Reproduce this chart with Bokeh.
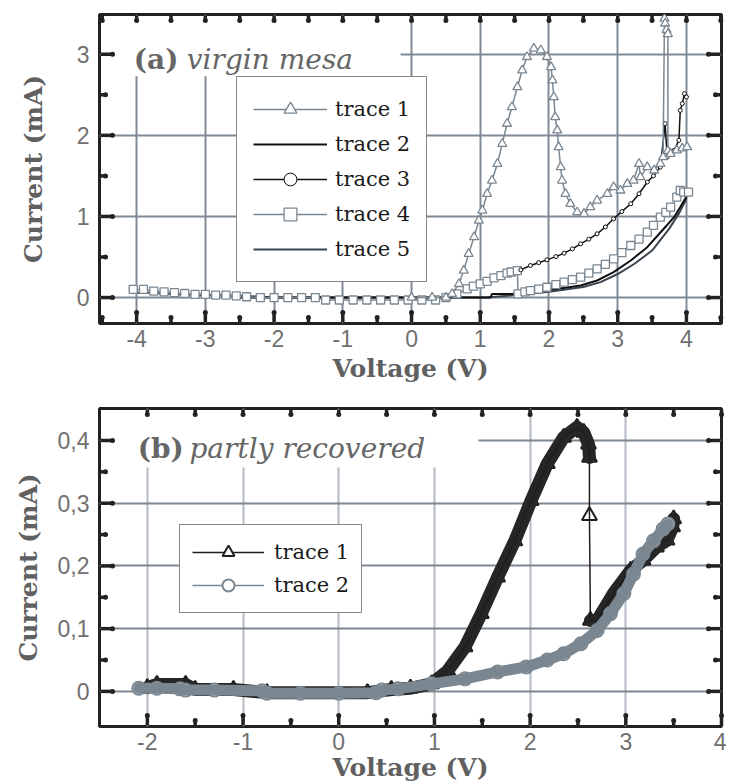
from bokeh.plotting import figure
from bokeh.models import (FixedTicker, Range1d, Legend, LegendItem,
                          Label, BoxAnnotation, CustomJSTickFormatter)
from bokeh.layouts import column
from bokeh.embed import file_html
from bokeh.resources import INLINE

# ---------------- panel (a): virgin mesa ----------------
a_xrange = (-4.54, 4.51)
a_yrange = (-0.32, 3.49)
a_xticks = [-4, -3, -2, -1, 0, 1, 2, 3, 4]
a_xminor = [-4.5, -3.5, -2.5, -1.5, -0.5, 0.5, 1.5, 2.5, 3.5, 4.5]
a_yticks = [0, 1, 2, 3]
a_yminor = [0.5, 1.5, 2.5]

a1_v = [0.0, 0.3, 0.5, 0.59, 0.69, 0.76, 0.83, 0.91, 0.98, 1.03, 1.10, 1.17, 1.25,
        1.32, 1.39, 1.46, 1.54, 1.61, 1.68, 1.78, 1.88, 1.97, 2.03,
        2.05, 2.07, 2.09, 2.12, 2.14, 2.17, 2.19, 2.24, 2.31, 2.41,
        2.51, 2.60, 2.70, 2.85, 2.94, 3.04, 3.14, 3.23, 3.31, 3.33,
        3.43, 3.53, 3.62, 3.66, 3.68, 3.69, 3.71, 3.73, 3.73, 3.77,
        3.86, 3.94, 4.01]
a1_i = [0.0, 0.0, 0.0, 0.045, 0.168, 0.333, 0.539, 0.745, 0.95, 1.074, 1.28, 1.444, 1.65,
        1.897, 2.144, 2.35, 2.596, 2.802, 2.967, 3.07, 3.05, 2.967, 2.843,
        2.679, 2.473, 2.226, 2.062, 1.856, 1.609, 1.444, 1.28, 1.156, 1.053,
        1.033, 1.115, 1.197, 1.28, 1.362, 1.321, 1.403, 1.444, 1.65, 1.485,
        1.609, 1.568, 1.65, 1.732, 3.44, 3.38, 3.3, 3.25, 1.81, 1.773,
        1.815, 1.84, 1.856]

a2_v = [-2.5, 0.0, 1.1, 1.15, 1.17, 1.49, 1.97, 2.46, 2.70, 2.94, 3.19, 3.43, 3.67, 3.82, 3.91, 4.01]
a2_i = [0.0, 0.0, 0.0, 0.0, 0.045, 0.045, 0.086, 0.148, 0.21, 0.313, 0.457, 0.621, 0.848, 0.991, 1.115, 1.259]

a3_v = [1.59, 1.73, 1.85, 1.97, 2.10, 2.22, 2.34, 2.46, 2.58, 2.70, 2.82, 2.94, 3.06, 3.19,
        3.31, 3.43, 3.52, 3.62, 3.69, 3.72, 3.82, 3.89, 3.91, 3.94, 3.97, 4.0]
a3_i = [0.341, 0.395, 0.43, 0.465, 0.505, 0.547, 0.60, 0.662, 0.72, 0.786, 0.87, 0.971, 1.06, 1.156,
        1.28, 1.424, 1.50, 1.609, 2.144, 1.732, 1.815, 1.938, 2.308, 2.391, 2.514, 2.473]

a4_v = [-4.05, -3.9, -3.75, -3.6, -3.45, -3.3, -3.15, -3.0, -2.85, -2.7, -2.55, -2.4,
        -2.2, -2.0, -1.8, -1.6, -1.4, -1.25, -1.05, -0.85, -0.65, -0.45, -0.25, -0.05,
        0.15, 0.35, 0.5, 0.66, 0.81, 0.9, 1.0, 1.1, 1.2, 1.3, 1.39, 1.45, 1.54,
        1.55, 1.65, 1.73, 1.85, 1.97, 2.1, 2.22, 2.34, 2.46, 2.58, 2.70, 2.82, 2.94,
        3.06, 3.19, 3.31, 3.43, 3.52, 3.62, 3.70, 3.77, 3.86, 3.91, 3.96, 4.03]
a4_i = [0.1, 0.1, 0.08, 0.07, 0.06, 0.05, 0.04, 0.04, 0.03, 0.03, 0.02, 0.01,
        0.0, 0.0, 0.0, 0.0, 0.0, -0.03, -0.03, -0.03, -0.03, -0.03, -0.03, -0.03,
        -0.03, -0.03, 0.0, 0.045, 0.107, 0.14, 0.168, 0.2, 0.243, 0.27, 0.3, 0.315, 0.333,
        0.045, 0.07, 0.086, 0.105, 0.127, 0.16, 0.189, 0.22, 0.251, 0.30, 0.354, 0.41, 0.477,
        0.555, 0.642, 0.72, 0.806, 0.89, 0.991, 1.05, 1.115, 1.238, 1.32, 1.3, 1.3]

a5_v = [-4.0, -3.8, -3.45, -2.4, -2.0, 1.1, 1.5, 2.0, 2.5, 2.75, 3.0, 3.25, 3.5, 3.75, 3.9, 4.0]
a5_i = [0.06, 0.06, 0.04, 0.02, 0.0, 0.0, 0.03, 0.07, 0.13, 0.19, 0.29, 0.42, 0.58, 0.85, 1.05, 1.22]

a_labels = ["trace 1", "trace 2", "trace 3", "trace 4", "trace 5"]

# ---------------- panel (b): partly recovered ----------------
b_xrange = (-2.5, 4.0)
b_yrange = (-0.056, 0.451)
b_xticks = [-2, -1, 0, 1, 2, 3, 4]
b_xminor = [-1.5, -0.5, 0.5, 1.5, 2.5, 3.5]
b_yticks = [0, 0.1, 0.2, 0.3, 0.4]
b_yminor = [0.05, 0.15, 0.25, 0.35]

b1_v = [-2.0, -1.9, -1.6, -1.5, -1.1, -0.75, 0.3, 0.55, 0.75, 0.97, 1.14, 1.32, 1.49, 1.66,
        1.84, 2.01, 2.18, 2.35, 2.49, 2.56, 2.61, 2.62, 2.62, 2.63, 2.70, 2.87, 3.05,
        3.18, 3.32, 3.43, 3.49, 3.50]
b1_i = [0.006, 0.011, 0.011, 0.003, 0.003, -0.002, -0.002, 0.003, 0.005, 0.012, 0.033, 0.071,
        0.124, 0.182, 0.24, 0.304, 0.363, 0.405, 0.421, 0.413, 0.394, 0.373, 0.28, 0.113,
        0.113, 0.156, 0.193, 0.209, 0.23, 0.241, 0.262, 0.275]
b1_drop = 21  # last point before the vertical drop

b2_v = [-2.09, -1.9, -1.66, -1.6, -1.3, -0.8, -0.75, -0.4, 0.0, 0.39, 0.45, 0.62, 0.97,
        1.32, 1.66, 1.96, 2.18, 2.35, 2.53, 2.70, 2.84, 2.98, 3.08, 3.18, 3.29, 3.39, 3.44]
b2_i = [0.005, 0.005, 0.004, 0.002, 0.002, 0.001, -0.003, -0.003, -0.003, -0.002, 0.002,
        0.004, 0.012, 0.02, 0.031, 0.039, 0.05, 0.06, 0.076, 0.097, 0.124, 0.156, 0.187,
        0.219, 0.24, 0.259, 0.267]

b_labels = ["trace 1", "trace 2"]

# ---------------- styling ----------------
GRAY = "#7a8791"
DARK = "#222222"
TXT = "#666666"
TICK_FONT = "Liberation Sans"
SERIF = "DejaVu Serif"
FRAME_W = 622

plain_fmt = "return String(tick);"


def draw_ticks(p, xr, yr, fh, xt, xm, yt, ym):
    """Inward Origin-style tick marks on all four sides, drawn as line glyphs."""
    dx = (xr[1] - xr[0]) / FRAME_W   # data units per screen pixel
    dy = (yr[1] - yr[0]) / fh
    kw = dict(line_color=DARK, line_width=3.5, level="overlay")
    xs, ys = [], []
    for ticks, L in ((yt, 13), (ym, 6)):
        for t in ticks:
            xs.append([xr[0] + 1 * dx, xr[0] + L * dx]); ys.append([t, t])
            xs.append([xr[1] - 1 * dx, xr[1] - L * dx]); ys.append([t, t])
    for ticks, L in ((xt, 11), (xm, 6)):
        for t in ticks:
            xs.append([t, t]); ys.append([yr[0] + 1 * dy, yr[0] + L * dy])
    for t in xt + xm:
        xs.append([t, t]); ys.append([yr[1] - 1 * dy, yr[1] - 6 * dy])
    p.multi_line(xs, ys, **kw)
    # small round ends, Origin style
    ex = [x[1] for x in xs]
    ey = [y[1] for y in ys]
    p.scatter(ex, ey, marker="circle", size=5, line_color=None, fill_color=DARK,
              level="overlay")


def make_fig(xr, yr, fh, mbt, mbb, xt, xm, yt, ym, ylab_standoff, xlab_standoff, yfmt):
    p = figure(x_range=Range1d(*xr), y_range=Range1d(*yr),
               frame_width=FRAME_W, frame_height=fh,
               min_border_left=99, min_border_right=5,
               min_border_top=mbt, min_border_bottom=mbb,
               toolbar_location=None, output_backend="svg",
               outline_line_color=DARK, outline_line_width=3)
    xa = p.xaxis[0]
    ya = p.yaxis[0]
    xa.ticker = FixedTicker(ticks=xt, minor_ticks=xm)
    ya.ticker = FixedTicker(ticks=yt, minor_ticks=ym)
    xa.formatter = CustomJSTickFormatter(code=plain_fmt)
    ya.formatter = yfmt
    for ax in (xa, ya):
        ax.axis_line_color = None
        ax.major_tick_line_color = None
        ax.minor_tick_line_color = None
        ax.major_tick_in = 0
        ax.major_tick_out = 0
        ax.minor_tick_in = 0
        ax.minor_tick_out = 0
        ax.major_label_text_font = TICK_FONT
        ax.major_label_text_font_size = "23px"
        ax.major_label_text_color = "#707070"
        ax.axis_label_text_font = SERIF
        ax.axis_label_text_font_style = "bold"
        ax.axis_label_text_font_size = "25px"
        ax.axis_label_text_color = "#606060"
    xa.axis_label = "Voltage (V)"
    ya.axis_label = "Current (mA)"
    xa.major_label_standoff = 6
    ya.major_label_standoff = 10
    ya.axis_label_standoff = ylab_standoff
    xa.axis_label_standoff = xlab_standoff
    p.xgrid.ticker = FixedTicker(ticks=xt)
    p.ygrid.ticker = FixedTicker(ticks=yt)
    for g in (p.xgrid, p.ygrid):
        g.grid_line_color = "#7f8a94"
        g.grid_line_width = 2
    return p


# ---------------- figure (a) ----------------
pa = make_fig(a_xrange, a_yrange, 309, 14, 72,
              a_xticks, a_xminor, a_yticks, a_yminor, 26, 4,
              CustomJSTickFormatter(code=plain_fmt))

pa.add_layout(BoxAnnotation(left=-4.35, right=-0.16, top=3.40, bottom=2.73,
                            fill_color="white", fill_alpha=1, line_alpha=0,
                            level="underlay"))
pa.add_layout(Label(x=-4.04, y=2.94, text="(a)", text_font=SERIF, text_font_style="bold",
                    text_font_size="28px", text_color=TXT, text_baseline="alphabetic"))
pa.add_layout(Label(x=-3.27, y=2.94, text="virgin mesa", text_font=SERIF,
                    text_font_style="italic", text_font_size="28px", text_color=TXT,
                    text_baseline="alphabetic"))

r5 = pa.line(a5_v, a5_i, line_color="#3a4550", line_width=2)
r2 = pa.line(a2_v, a2_i, line_color="#111111", line_width=2)
r4l = pa.line(a4_v, a4_i, line_color=GRAY, line_width=1.5)
r4s = pa.scatter(a4_v, a4_i, marker="square", size=8, line_color=GRAY, line_width=1.3,
                 fill_color="white")
r3l = pa.line(a3_v, a3_i, line_color="#111111", line_width=1.5)
r3s = pa.scatter(a3_v, a3_i, marker="circle", size=4, line_color="#111111", line_width=1,
                 fill_color="white")
r1l = pa.line(a1_v, a1_i, line_color=GRAY, line_width=1.5)
r1s = pa.scatter(a1_v, a1_i, marker="triangle", size=9, line_color=GRAY, line_width=1.3,
                 fill_color="white")
draw_ticks(pa, a_xrange, a_yrange, 309, a_xticks, a_xminor, a_yticks, a_yminor)

leg_a = Legend(items=[LegendItem(label=a_labels[0], renderers=[r1l, r1s]),
                      LegendItem(label=a_labels[1], renderers=[r2]),
                      LegendItem(label=a_labels[2], renderers=[r3l, r3s]),
                      LegendItem(label=a_labels[3], renderers=[r4l, r4s]),
                      LegendItem(label=a_labels[4], renderers=[r5])],
               location=(137, 41), padding=16, spacing=3, label_height=32,
               glyph_height=32, glyph_width=74, label_standoff=8, margin=0,
               label_text_font=SERIF, label_text_font_size="21px",
               label_text_color="#1a1a1a", border_line_color="#111111",
               border_line_width=1.5, background_fill_color="white",
               background_fill_alpha=1)
pa.add_layout(leg_a)

# ---------------- figure (b) ----------------
fmt_b = CustomJSTickFormatter(code="return tick == 0 ? '0' : tick.toFixed(1).replace('.', ',');")
pb = make_fig(b_xrange, b_yrange, 318, 13, 58,
              b_xticks, b_xminor, b_yticks, b_yminor, 12, 0, fmt_b)
pb.xgrid.grid_line_color = "#b3bbc3"
pb.ygrid.grid_line_color = "#7d8891"

pb.add_layout(BoxAnnotation(left=-2.36, right=1.46, top=0.440, bottom=0.357,
                            fill_color="white", fill_alpha=1, line_alpha=0,
                            level="underlay"))
pb.add_layout(Label(x=-2.10, y=0.388, text="(b)", text_font=SERIF, text_font_style="bold",
                    text_font_size="28px", text_color=TXT, text_baseline="alphabetic"))
pb.add_layout(Label(x=-1.56, y=0.388, text="partly recovered", text_font=SERIF,
                    text_font_style="italic", text_font_size="28px", text_color=TXT,
                    text_baseline="alphabetic"))

s_b1 = pb.scatter(b1_v, b1_i, marker="triangle", size=15, line_color="#1e1e1e",
                  line_width=2, fill_color="white")
pb.line(b1_v[:b1_drop + 1], b1_i[:b1_drop + 1], line_color="#262626", line_width=13,
        line_join="round", line_cap="round")
pb.line(b1_v[b1_drop + 2:], b1_i[b1_drop + 2:], line_color="#262626", line_width=13,
        line_join="round", line_cap="round")
l_b1 = pb.line(b1_v, b1_i, line_color="#1e1e1e", line_width=1.5)

s_b2 = pb.scatter(b2_v, b2_i, marker="circle", size=13, line_color=GRAY, line_width=2,
                  fill_color="white")
pb.line(b2_v, b2_i, line_color=GRAY, line_width=11, line_join="round", line_cap="round")
l_b2 = pb.line(b2_v, b2_i, line_color=GRAY, line_width=1.5)
draw_ticks(pb, b_xrange, b_yrange, 318, b_xticks, b_xminor, b_yticks, b_yminor)

leg_b = Legend(items=[LegendItem(label=b_labels[0], renderers=[l_b1, s_b1]),
                      LegendItem(label=b_labels[1], renderers=[l_b2, s_b2])],
               location=(80, 113), padding=12, spacing=3, label_height=30,
               glyph_height=30, glyph_width=72, label_standoff=10, margin=0,
               label_text_font=SERIF, label_text_font_size="21px",
               label_text_color="#1a1a1a", border_line_color="#111111",
               border_line_width=1.5, background_fill_color="white",
               background_fill_alpha=1)
pb.add_layout(leg_b)

layout = column(pa, pb)
open("out.html", "w").write(file_html(layout, INLINE))
